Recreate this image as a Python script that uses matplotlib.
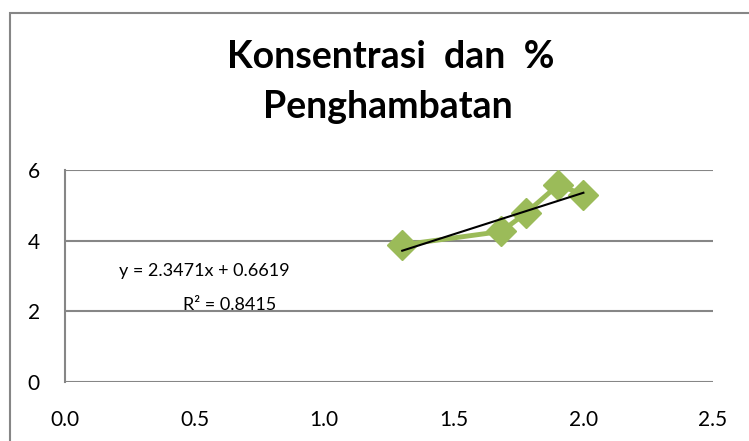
import matplotlib
matplotlib.use('Agg')
import matplotlib.pyplot as plt
from matplotlib.patches import Rectangle

plt.rcParams['font.family'] = ['Lato', 'DejaVu Sans']

# log10 concentration vs % inhibition
log_conc = [1.301, 1.683, 1.778, 1.903, 2.000]
inhibition = [3.88, 4.26, 4.78, 5.58, 5.30]
x_ticks = [0.0, 0.5, 1.0, 1.5, 2.0, 2.5]
y_ticks = [0, 2, 4, 6]
slope, intercept, r2 = 2.3471, 0.6619, 0.8415

green = '#9bbb59'
grid_grey = '#868686'

fig = plt.figure(figsize=(7.49, 4.41), dpi=100)

# chart area frame (cropped on right/bottom like the original)
fig.patches.append(Rectangle((10 / 749, -0.1), 1.2, 1 - 13 / 441 + 0.1,
                             transform=fig.transFigure, fill=False,
                             edgecolor=grid_grey, linewidth=1.5))

ax = fig.add_axes([65 / 749, 1 - 382 / 441, (713 - 65) / 749, (382 - 170) / 441])

ax.plot(log_conc, inhibition, color=green, linewidth=3.5, marker='D',
        markersize=15, markerfacecolor=green, markeredgecolor=green, zorder=3)

trend_x = [min(log_conc), max(log_conc)]
trend_y = [slope * v + intercept for v in trend_x]
ax.plot(trend_x, trend_y, color='black', linewidth=1.5, zorder=4)

ax.set_xlim(0, 2.5)
ax.set_ylim(0, 6)
ax.set_xticks(x_ticks)
ax.set_xticklabels([f'{v:.1f}' for v in x_ticks])
ax.set_yticks(y_ticks)
ax.tick_params(length=0, labelsize=15, colors='black')
ax.tick_params(axis='x', pad=20)
ax.tick_params(axis='y', pad=18)
ax.yaxis.grid(True, color=grid_grey, linewidth=1.5)
ax.set_axisbelow(True)
for side in ['top', 'right', 'bottom']:
    ax.spines[side].set_visible(False)
ax.spines['left'].set_color(grid_grey)
ax.spines['left'].set_linewidth(1.5)

fig.text(290 / 749, 1 - 276 / 441, f'y = {slope}x + {intercept}',
         ha='right', va='baseline', fontsize=13)
fig.text(230 / 749, 1 - 310 / 441, f'R² = {r2}',
         ha='center', va='baseline', fontsize=13)

fig.text(391 / 749, 1 - 68 / 441, 'Konsentrasi  dan  %',
         ha='center', va='baseline', fontsize=27, fontweight='bold')
fig.text(388 / 749, 1 - 118 / 441, 'Penghambatan',
         ha='center', va='baseline', fontsize=27, fontweight='bold')

fig.savefig('out.png', dpi=100)
